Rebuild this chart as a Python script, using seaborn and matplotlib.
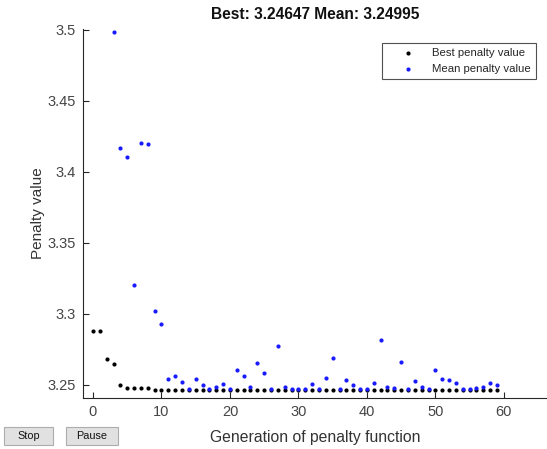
import numpy as np
import pandas as pd
import matplotlib
matplotlib.use("Agg")
import matplotlib.pyplot as plt
from matplotlib.patches import Rectangle
import seaborn as sns

# Genetic-algorithm progress: best and mean penalty per generation
generations = list(range(60))
best_penalty = [3.2880, 3.2880, 3.2685, 3.2646, 3.2500, 3.2477, 3.2477, 3.2477, 3.2477] + [3.24647] * 51
mean_penalty = [np.nan, np.nan, np.nan, 3.4981, 3.4171, 3.4107, 3.3201, 3.4201, 3.4197, 3.3020,
                3.2931, 3.2542, 3.2566, 3.2519, 3.2472, 3.2542, 3.2500, 3.2472, 3.2486, 3.2505,
                3.2472, 3.2603, 3.2566, 3.2486, 3.2655, 3.2587, 3.2472, 3.2777, 3.2487, 3.2474,
                3.2474, 3.2472, 3.2505, 3.2472, 3.2549, 3.2690, 3.2474, 3.2535, 3.2498, 3.2472,
                3.2472, 3.2514, 3.2815, 3.2486, 3.2477, 3.2664, 3.2472, 3.2528, 3.2484, 3.2472,
                3.2608, 3.2545, 3.2538, 3.2514, 3.2472, 3.2472, 3.2481, 3.2486, 3.2514, 3.24995]
title_text = "Best: 3.24647 Mean: 3.24995"
x_ticks = [0, 10, 20, 30, 40, 50, 60]
y_ticks = [3.25, 3.3, 3.35, 3.4, 3.45, 3.5]

df = pd.DataFrame({"gen": generations, "best": best_penalty, "mean": mean_penalty})

sns.set_style("white")
plt.rcParams["font.family"] = ["Liberation Sans", "DejaVu Sans"]

fig = plt.figure(figsize=(5.47, 4.49), dpi=100)
ax = fig.add_axes([0.1517, 0.1136, 1.0 - 0.1517, 0.8218])

sns.scatterplot(data=df, x="gen", y="best", color="black", s=9, linewidth=0,
                label="Best penalty value", ax=ax, zorder=3)
sns.scatterplot(data=df, x="gen", y="mean", color="#1a1aff", s=9, linewidth=0,
                label="Mean penalty value", ax=ax, zorder=4)

ax.set_xlim(-1.46, 66.3)
ax.set_ylim(3.2408, 3.5005)
ax.set_xticks(x_ticks)
ax.set_yticks(y_ticks)
ax.set_yticklabels([f"{v:g}" for v in y_ticks])
ax.tick_params(bottom=True, left=True, direction="in", length=4, width=0.8,
               colors="#262626", labelsize=10.5, labelcolor="#454545", pad=5)
for side in ("top", "right"):
    ax.spines[side].set_visible(False)
for side in ("left", "bottom"):
    ax.spines[side].set_color("#262626")
    ax.spines[side].set_linewidth(0.8)

ax.set_xlabel("Generation of penalty function", fontsize=11.3, color="#333333", labelpad=8)
ax.set_ylabel("Penalty value", fontsize=11, color="#333333", labelpad=2)
ax.set_title(title_text, fontsize=11.2, fontweight="bold", color="#111111", pad=7)

leg = ax.legend(loc="upper right", bbox_to_anchor=(0.976, 0.962), fontsize=8.2,
                frameon=True, fancybox=False, edgecolor="#262626", borderpad=0.45,
                handlelength=3.6, handletextpad=0.3, markerscale=1.0, borderaxespad=0)
leg.get_frame().set_linewidth(0.8)

# Stop / Pause buttons along the bottom edge
W, H = 547.0, 449.0
for label, x0, x1 in [("Stop", 4, 53), ("Pause", 66, 118)]:
    fig.add_artist(Rectangle((x0 / W, (H - 445) / H), (x1 - x0) / W, 18 / H,
                             transform=fig.transFigure, facecolor="#e1e1e1",
                             edgecolor="#adadad", linewidth=0.8))
    fig.text((x0 + x1) / 2 / W, (H - 436) / H, label, ha="center", va="center",
             fontsize=7.8, color="#111111")

fig.savefig("out.png", dpi=100, facecolor="white")
